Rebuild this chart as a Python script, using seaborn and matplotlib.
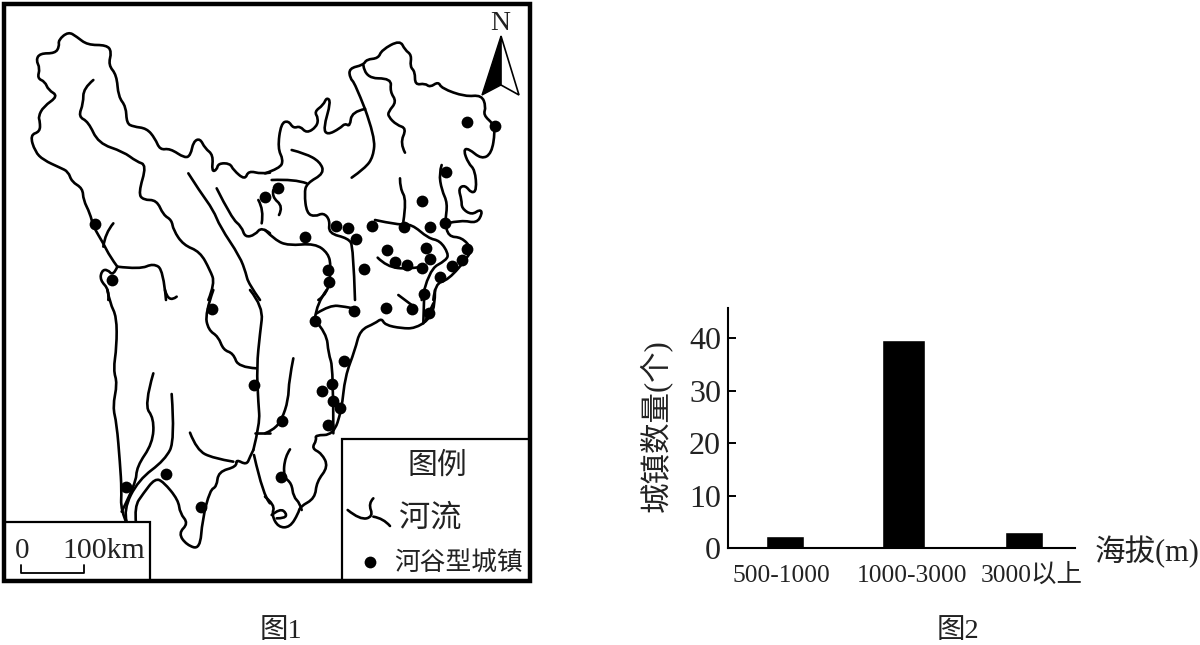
import numpy as np
import seaborn as sns
import matplotlib.pyplot as plt
from matplotlib.path import Path
from matplotlib.patches import PathPatch, Polygon, Rectangle

# ----------------------------------------------------
# Bar chart data (figure 2)
# ----------------------------------------------------
altitude = ["500-1000", "1000-3000", "3000以上"]
town_count = [2.3, 39.7, 3.0]
y_ticks = [0, 10, 20, 30, 40]

# ----------------------------------------------------
# Map data (figure 1).
# Each list is in the coordinates of one 3x crop, see CROPS.
# ----------------------------------------------------
nw_rivers = [
    [(352,800),(330,770),(310,730),(280,680),(270,640),(250,600),(248,565),(215,545),(205,515),(180,503),
     (130,480),(105,455),(90,405),(120,395),(120,365),(115,350),(130,320),(175,288),(145,270),(135,245),
     (112,235),(120,205),(108,180),(120,160),(165,160),(178,140),(175,120),(205,95),(230,110),(262,135),
     (320,135),(335,155),(325,195),(350,225),(355,290),(378,320),(380,370),(400,380),(440,385),(465,415),
     (480,450),(510,445),(555,475),(572,465),(580,425),(600,415),(615,445),(640,465),(635,515),(650,510),
     (655,490),(690,490),(700,510),(735,540),(745,512),(785,522),(810,518)],
    [(280,240),(250,265),(250,310),(235,350),(265,365),(295,430),(370,455),(410,485),(440,495),(415,580),
     (430,600),(470,600),(490,645),(515,660),(520,690),(550,735),(600,755),(630,810),(645,850),(625,900)],
    [(340,670),(315,700),(310,740)],
    [(352,800),(420,808),(460,790),(490,810),(498,900)],
    [(352,800),(340,828),(322,808),(305,812),(300,840),(328,870),(325,900)],
    [(565,520),(600,575),(640,630),(660,680),(720,770),(738,820),(745,850),(780,900)],
    [(650,565),(695,655),(725,680),(735,712),(765,705),(785,680),(810,700)],
    [(775,600),(792,630),(785,670)],
]
ne_rivers = [
    [(0,520),(45,505),(55,480),(38,445),(48,370),(70,362),(85,385),(105,378),(125,400),(155,380),(160,355),
     (148,335),(175,315),(185,292),(198,305),(175,385),(187,405),(225,385),(240,370),(255,380),(260,335),(300,327)],
    [(300,327),(270,250),(255,235),(252,205),(295,195),(305,178),(340,175),(350,150),(405,120),(420,150),
     (440,165),(435,200),(450,215),(450,255),(480,250),(495,262),(520,245),(530,265),(600,290),(650,285),
     (663,320),(655,345),(685,372),(690,395),(680,460),(650,478),(610,445),(595,450),(610,490),(630,510),
     (635,570),(620,580),(600,555),(580,565),(590,600),(590,625),(620,645),(645,628),(652,640),(635,670),
     (590,660),(545,670)],
    [(300,327),(330,410),(325,470),(300,505),(260,533)],
    [(295,195),(300,235),(380,235),(375,275),(395,305),(370,335),(370,350),(395,375),(425,385),(405,430),(420,458)],
    [(80,450),(120,460),(165,485),(178,520),(125,550),(118,580),(125,640),(150,650),(175,638),(195,660),
     (190,700),(250,715),(265,740),(270,900)],
    [(20,540),(90,537),(125,550)],
    [(25,570),(20,590),(55,620),(42,645)],
    [(0,690),(30,720),(70,737),(150,730),(190,760),(198,800),(190,880),(160,900)],
    [(530,495),(522,520),(530,570),(548,610),(540,665),(550,710),(590,712),(620,745),(610,770),(550,840),(510,850),(505,900)],
    [(330,660),(400,675),(440,672),(490,715),(525,722),(550,760),(545,780),(490,810),(470,900)],
    [(405,535),(405,565),(425,600),(415,665)],
    [(338,773),(365,800),(430,808),(470,800)],
]
sw_rivers = [
    [(382,705),(362,660),(365,600),(360,520),(350,400),(338,350),(352,280),(340,240),(350,170),(350,80),(330,40),(322,0)],
    [(640,0),(615,70),(625,120),(655,140),(670,180),(700,190),(715,232),(770,235)],
    [(495,0),(505,40),(530,20)],
    [(750,0),(790,50),(780,130),(770,230),(775,340),(780,400),(760,480)],
    [(460,250),(432,345),(462,385),(458,460),(410,530),(408,580),(365,665)],
    [(515,312),(525,450),(495,510),(415,570),(370,660),(380,695)],
    [(408,700),(403,650),(430,610),(465,565),(490,575),(535,630),(540,670),(565,700),(535,730),(560,765),
     (600,778),(607,690),(630,600),(650,590),(655,545),(710,530),(708,508),(740,525),(750,500),(760,480)],
    [(570,428),(590,480),(640,505),(700,515)],
    [(765,430),(810,430)],
    [(762,495),(790,620),(810,640)],
]
se_rivers = [
    [(0,430),(25,420),(50,390),(70,330),(72,270),(85,205)],
    [(0,620),(30,645),(20,675),(40,712),(75,712),(100,670),(105,650),(150,625),(155,575),(190,530),(170,490),
     (140,475),(155,450),(150,435),(205,435),(230,360),(240,260),(270,180),(285,120),(330,100),(350,85),
     (360,105),(410,115),(450,115),(490,90),(510,50),(510,0)],
    [(478,0),(475,100)],
    [(400,15),(440,45)],
    [(505,40),(480,95)],
    [(150,90),(185,130),(190,190),(205,235),(205,430)],
    [(155,70),(195,45),(240,50),(265,55)],
    [(150,85),(155,40),(185,0)],
    [(75,478),(60,500),(55,560),(80,580),(85,620),(105,640),(110,660)],
    [(20,675),(45,655),(65,670),(60,685),(35,685)],
]
CROPS = [(nw_rivers, 0, 0), (ne_rivers, 265, 0), (sw_rivers, 0, 290), (se_rivers, 265, 290)]

town_x = [95,112,265,467,495,446,422,278,336,348,356,372,404,430,445,305,387,426,467,395,407,430,422,462,
          452,440,328,329,364,424,212,254,126,166,201,354,315,386,412,429,344,332,322,333,340,328,282,281]
town_y = [224,280,197,122,126,172,201,188,226,228,239,226,227,227,223,237,250,248,249,262,265,259,268,260,
          266,277,270,282,269,294,309,385,487,474,507,311,321,308,309,313,361,384,391,401,408,425,421,477]

legend_river = [[(248,660),(285,690),(325,680),(310,640),(325,625)], [(325,680),(355,685),(375,708)]]

TEXT_COLOR = "#222222"

sns.set_theme(style="white")
plt.rcParams['font.family'] = ['Liberation Serif', 'Noto Sans CJK SC']

fig = plt.figure(figsize=(12, 6.45), dpi=100)

# ----------------------------------------------------
# Figure 1: map, axes in picture pixels
# ----------------------------------------------------
ax_map = fig.add_axes([0, 0, 1, 1])

# traced points are the control points of a quadratic curve, so the rivers stay round
def draw_river(points, dx, dy, lw=1.9, zorder=1):
    pts = np.array(points) / 3 + (dx, dy)
    verts = [pts[0]]
    codes = [Path.MOVETO]
    for i in range(1, len(pts) - 1):
        end = pts[i + 1] if i == len(pts) - 2 else (pts[i] + pts[i + 1]) / 2
        verts += [pts[i], end]
        codes += [Path.CURVE3, Path.CURVE3]
    if len(pts) == 2:
        verts.append(pts[1])
        codes.append(Path.LINETO)
    ax_map.add_patch(PathPatch(Path(verts, codes), fill=False, ec="black", lw=lw,
                               capstyle="round", joinstyle="round", zorder=zorder))

for rivers, dx, dy in CROPS:
    for river in rivers:
        draw_river(river, dx, dy)

sns.scatterplot(x=town_x, y=town_y, color="black", s=72, linewidth=0, ax=ax_map, zorder=3)

ax_map.add_patch(Rectangle((342, 439), 188, 142, fc="white", ec="black", lw=1.6, zorder=2))
ax_map.add_patch(Rectangle((4, 522), 146, 59, fc="white", ec="black", lw=1.6, zorder=2))
ax_map.add_patch(Rectangle((4, 4), 526, 577, fill=False, ec="black", lw=3.2, zorder=4))

# legend symbols on top of the box
for river in legend_river:
    draw_river(river, 265, 290, zorder=5)
sns.scatterplot(x=[370], y=[562], color="black", s=72, linewidth=0, ax=ax_map, zorder=5)

# north arrow
ax_map.add_patch(Polygon([(501, 36), (482, 95), (501, 85)], fc="black", ec="black", lw=1))
ax_map.add_patch(Polygon([(501, 36), (519, 95), (501, 85)], fc="white", ec="black", lw=1.2))
ax_map.text(500, 23, "N", fontsize=20, ha="center", va="center", color=TEXT_COLOR)

# scale bar
ax_map.plot([21, 21, 84, 84], [565, 573, 573, 565], color="black", lw=1.3, zorder=5)
ax_map.text(22, 551, "0", fontsize=21, ha="center", va="center", zorder=5, color=TEXT_COLOR)
ax_map.text(104, 551, "100km", fontsize=21.5, ha="center", va="center", zorder=5, color=TEXT_COLOR)

ax_map.text(437, 466, "图例", fontsize=21.5, ha="center", va="center", zorder=5, color=TEXT_COLOR)
ax_map.text(430, 519, "河流", fontsize=22.5, ha="center", va="center", zorder=5, color=TEXT_COLOR)
ax_map.text(459, 564, "河谷型城镇", fontsize=18.5, ha="center", va="center", zorder=5, color=TEXT_COLOR)

ax_map.text(281, 632, "图1", fontsize=20.5, ha="center", va="center", color=TEXT_COLOR)
ax_map.text(958, 632, "图2", fontsize=20.5, ha="center", va="center", color=TEXT_COLOR)

ax_map.set_xlim(0, 1200)
ax_map.set_ylim(645, 0)
ax_map.axis("off")

# ----------------------------------------------------
# Figure 2: bars
# ----------------------------------------------------
ax = fig.add_axes([728 / 1200, (645 - 548) / 645, 347 / 1200, 240 / 645])
ax.patch.set_alpha(0)
sns.barplot(x=altitude, y=town_count, color="black", saturation=1, ax=ax)

# bars are not equally wide in the original
bar_left = [-0.159, 0.812, 1.841]
bar_width = [0.318, 0.36, 0.318]
for patch, left, width in zip(ax.patches, bar_left, bar_width):
    patch.set_x(left)
    patch.set_width(width)

ax.set_xlim(-0.477, 2.427)
ax.set_ylim(0, 45.8)
ax.set_yticks(y_ticks)
ax.set_xticks([-0.033, 1.063, 2.067])
ax.set_xticklabels(altitude, fontsize=18.4, color=TEXT_COLOR)
ax.tick_params(axis="x", length=0, pad=12)
ax.tick_params(axis="y", direction="in", length=6, width=1.4, left=True, pad=5,
               labelsize=23, labelcolor=TEXT_COLOR, color="black")
sns.despine(ax=ax)
for side in ["left", "bottom"]:
    ax.spines[side].set_linewidth(1.5)
    ax.spines[side].set_color("black")

ax.set_ylabel("城镇数量(个)", fontsize=22, color=TEXT_COLOR, va="center")
ax.yaxis.set_label_coords(-0.21, 0.508)
ax.set_xlabel("海拔(m)", fontsize=22, color=TEXT_COLOR, va="center")
ax.xaxis.set_label_coords(1.207, -0.015)

fig.savefig("out.png", dpi=100)
